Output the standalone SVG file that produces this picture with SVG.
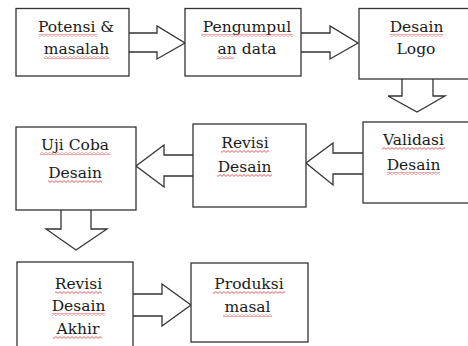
<svg xmlns="http://www.w3.org/2000/svg" width="468" height="346" viewBox="0 0 468 346">
<defs>
<style>
.box{fill:#fff;stroke:#333;stroke-width:1.3}
.arr{fill:#fff;stroke:#333;stroke-width:1.3;stroke-linejoin:miter}
.t{font-family:"DejaVu Serif","Liberation Serif",serif;font-size:15.5px;fill:#1a1a1a;text-anchor:middle}
.sq{fill:url(#wavy)}
</style>
<pattern id="wavy" patternUnits="userSpaceOnUse" width="4" height="3">
<path d="M0,0.6 L2,2.4 L4,0.6" fill="none" stroke="#d23a3a" stroke-width="0.8"/>
</pattern>
</defs>
<rect width="468" height="346" fill="#fff"/>
<g id="connectors">
<path class="arr" d="M129,33 H157 V26 L185,43 L157,59 V52 H129"/>
<path class="arr" d="M301,33 H330 V26 L358,43 L330,59 V52 H301"/>
<path class="arr" d="M402,79 V96 H388 L417,112 L445,96 H433 V79"/>
<path class="arr" d="M363,153 H333 V143 L306,163 L333,185 V174 H363"/>
<path class="arr" d="M193,155 H164 V145 L136,166 L164,187 V176 H193"/>
<path class="arr" d="M61,210 V229 H46 L76,250 L107,229 H91 V210"/>
<path class="arr" d="M133,294 H162 V284 L191,305 L162,326 V316 H133"/>
</g>
<g id="potensi">
<rect class="box" x="16" y="8.5" width="113" height="67.5"/>
<text class="t" x="76" y="32">Potensi &amp;</text>
<text class="t" x="76.5" y="54">masalah</text>
<rect class="sq" x="39" y="34" width="58" height="3"/>
<rect class="sq" x="44" y="56" width="65" height="3"/>
</g>
<g id="pengumpulan">
<rect class="box" x="185" y="8.5" width="116" height="67.5"/>
<text class="t" x="247" y="32">Pengumpul</text>
<text class="t" x="247" y="54">an data</text>
<rect class="sq" x="201" y="34" width="92" height="3"/>
<rect class="sq" x="217" y="56" width="17" height="3"/>
</g>
<g id="desain-logo">
<rect class="box" x="359" y="8.5" width="112" height="70.5"/>
<text class="t" x="416.5" y="32">Desain</text>
<text class="t" x="416" y="54">Logo</text>
<rect class="sq" x="390" y="34" width="53" height="3"/>
</g>
<g id="validasi">
<rect class="box" x="363" y="122" width="108" height="81"/>
<text class="t" x="413.5" y="145">Validasi</text>
<text class="t" x="413.5" y="170">Desain</text>
<rect class="sq" x="382" y="147" width="63" height="3"/>
<rect class="sq" x="387" y="172" width="53" height="3"/>
</g>
<g id="revisi">
<rect class="box" x="193" y="124" width="113" height="83"/>
<text class="t" x="245" y="148">Revisi</text>
<text class="t" x="244.5" y="172">Desain</text>
<rect class="sq" x="221" y="150" width="48" height="3"/>
<rect class="sq" x="217" y="174" width="55" height="3"/>
</g>
<g id="uji-coba">
<rect class="box" x="16" y="127" width="120" height="83"/>
<text class="t" x="75" y="150">Uji Coba</text>
<text class="t" x="75" y="178">Desain</text>
<rect class="sq" x="40" y="152" width="70" height="3"/>
<rect class="sq" x="48" y="180" width="54" height="3"/>
</g>
<g id="revisi-akhir">
<rect class="box" x="17" y="262" width="116" height="90"/>
<text class="t" x="78.5" y="289">Revisi</text>
<text class="t" x="78.5" y="311">Desain</text>
<text class="t" x="78" y="334">Akhir</text>
<rect class="sq" x="55" y="291" width="47" height="3"/>
<rect class="sq" x="52" y="313" width="53" height="3"/>
<rect class="sq" x="53" y="336" width="49" height="3"/>
</g>
<g id="produksi">
<rect class="box" x="191" y="263" width="117" height="79"/>
<text class="t" x="249" y="289">Produksi</text>
<text class="t" x="247.5" y="312">masal</text>
<rect class="sq" x="213" y="291" width="72" height="3"/>
<rect class="sq" x="223" y="314" width="49" height="3"/>
</g>
</svg>
